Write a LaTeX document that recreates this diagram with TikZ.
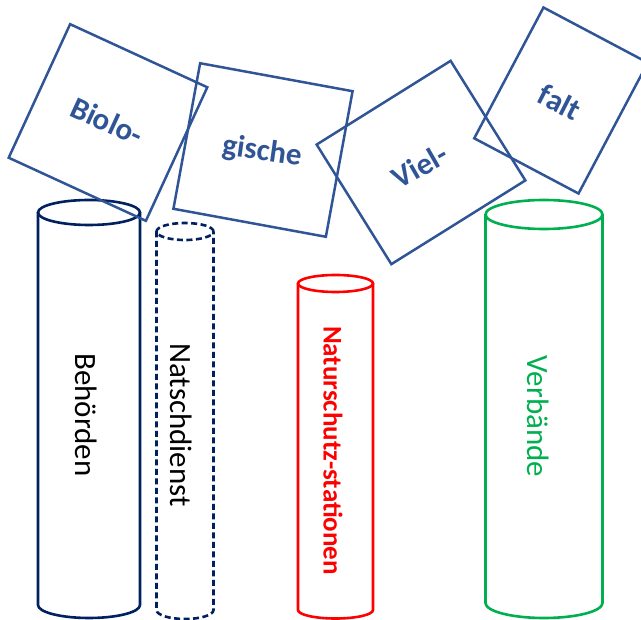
\documentclass[tikz,border=0pt]{standalone}
\usepackage{fontspec}
\setmainfont{Carlito}
\definecolor{sqblue}{HTML}{2F5597}
\definecolor{navy}{HTML}{002060}
\definecolor{gr}{HTML}{00B050}
\definecolor{rd}{HTML}{FF0000}
\tikzset{
  sq/.style={draw=sqblue, line width=2.5pt, inner sep=0pt},
  sqtext/.style={text=sqblue, font=\fontsize{31}{31}\selectfont\bfseries, inner sep=0pt},
  cyl/.style={line width=2.6pt},
  vtext/.style={rotate=-90, inner sep=0pt, font=\fontsize{31}{31}\selectfont}
}
\begin{document}
\begin{tikzpicture}[x=1pt,y=1pt]
\useasboundingbox (0,0) rectangle (641,-620);
% cylinders
\draw[cyl, navy] (89,-212.5) ellipse [x radius=51, y radius=12.5];
\draw[cyl, navy] (38,-212.5) -- (38,-605) arc[start angle=180, end angle=360, x radius=51, y radius=13] -- (140,-212.5);
\draw[cyl, navy, dash pattern=on 6pt off 3.5pt] (185,-231.5) ellipse [x radius=28.5, y radius=8.5];
\draw[cyl, navy, dash pattern=on 6pt off 3.5pt] (156.5,-231.5) -- (156.5,-610) arc[start angle=180, end angle=360, x radius=28.5, y radius=9] -- (213.5,-231.5);
\draw[cyl, rd] (335.5,-283.5) ellipse [x radius=37.5, y radius=8.5];
\draw[cyl, rd] (298,-283.5) -- (298,-610) arc[start angle=180, end angle=360, x radius=37.5, y radius=8.5] -- (373,-283.5);
\draw[cyl, gr] (544,-214.5) ellipse [x radius=58.5, y radius=14.5];
\draw[cyl, gr] (485.5,-214.5) -- (485.5,-603) arc[start angle=180, end angle=360, x radius=58.5, y radius=15] -- (602.5,-214.5);
% cylinder labels
\node[vtext] (beh) at (86,-415) {Behörden};
\node[vtext] (nat) at (181,-425) {Natschdienst};
\node[vtext, text=rd, font=\fontsize{27}{27}\selectfont\bfseries] (nsz) at (333,-450.5) {Naturschutz-stationen};
\node[vtext, text=gr] (ver) at (538,-416.5) {Verbände};
% squares
\node[sq, minimum width=151pt, minimum height=147pt, rotate=-24.7] (s1) at (108,-122.5) {};
\node[sq, minimum width=155pt, minimum height=148pt, rotate=-10.4] (s2) at (263,-150) {};
\node[sq, minimum width=158pt, minimum height=141pt, rotate=32] (s3) at (421,-162.5) {};
\node[sq, minimum width=118pt, minimum height=148pt, rotate=-27.9] (s4) at (561,-100.5) {};
\node[sqtext, rotate=-24.7] (t1) at (107,-121) {Biolo-};
\node[sqtext, rotate=-8] (t2) at (262,-152) {gische};
\node[sqtext, rotate=30] (t3) at (420,-166) {Viel-};
\node[sqtext, rotate=-27] (t4) at (560,-102) {falt};
\end{tikzpicture}
\end{document}
